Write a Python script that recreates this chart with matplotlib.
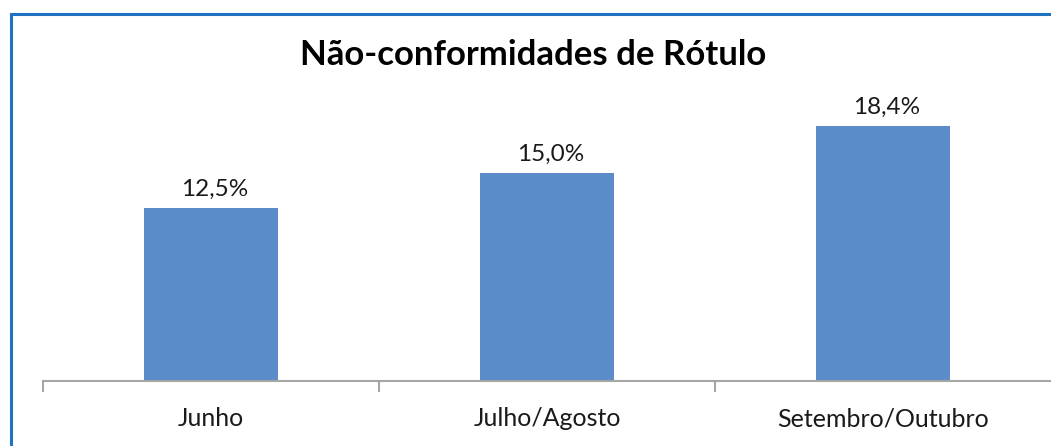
import matplotlib.pyplot as plt
from matplotlib.patches import Rectangle

categorias = ["Junho", "Julho/Agosto", "Setembro/Outubro"]
valores = [12.5, 15.0, 18.4]
rotulos = ["12,5%", "15,0%", "18,4%"]

W, H = 1051, 446
fig = plt.figure(figsize=(W / 100, H / 100), dpi=100)
plt.rcParams['font.family'] = ['Lato', 'DejaVu Sans']

# moldura azul (cortada à direita e em baixo)
fig.patches.append(Rectangle((11 / W, -0.05), 1.1, (H - 14) / H + 0.05,
                             transform=fig.transFigure, fill=False,
                             edgecolor='#1F72C0', linewidth=2.2))

y0 = 381
top = 100
ax = fig.add_axes([43 / W, (H - y0) / H, (W - 43) / W, (y0 - top) / H])
x = range(len(categorias))
ax.bar(x, valores, width=134 / 336, color='#5A8CC9')
ax.set_xlim(-0.5, 2.5)
ax.set_ylim(0, (y0 - top) / 13.84)
for xi, v, r in zip(x, valores, rotulos):
    ax.text(xi + 0.01, v + 0.6, r, ha='center', va='bottom', fontsize=17.5, color='#1a1a1a')

for s in ['top', 'right', 'left']:
    ax.spines[s].set_visible(False)
ax.spines['bottom'].set_color('#A6A6A6')
ax.spines['bottom'].set_linewidth(1.5)
ax.set_yticks([])
ax.set_xticks(x)
ax.set_xticklabels(categorias, fontsize=18, color='#1a1a1a')
ax.tick_params(axis='x', length=0, pad=19)
for b in [-0.5, 0.5, 1.5]:
    ax.plot([b, b], [0, -0.7], color='#A6A6A6', lw=1.5, clip_on=False)

fig.text(533 / W, (H - 55) / H, "Não-conformidades de Rótulo", ha='center', va='center',
         fontsize=25, fontweight='bold', color='#000000')

fig.savefig('out.png', dpi=100)
